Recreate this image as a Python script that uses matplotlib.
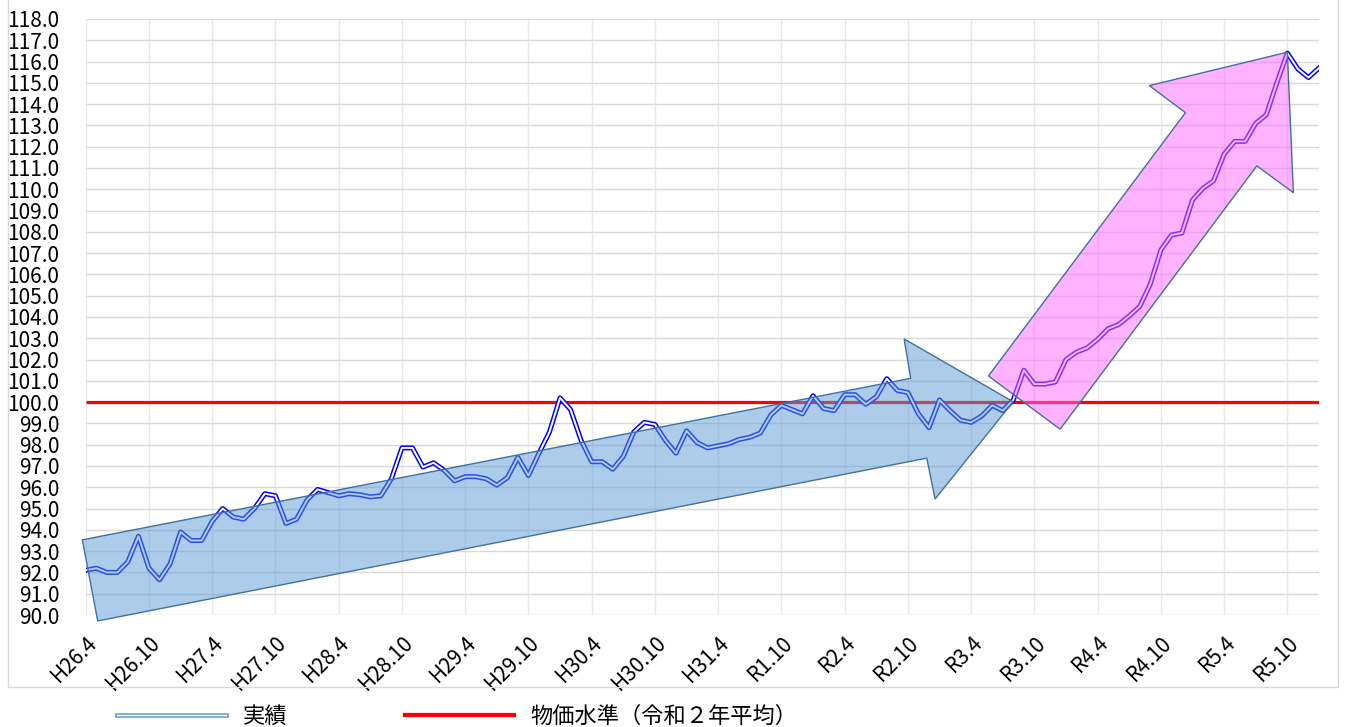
import matplotlib
matplotlib.use("Agg")
import matplotlib.pyplot as plt
import matplotlib.patheffects as pe
import numpy as np
from matplotlib.patches import Polygon, Rectangle
from matplotlib.lines import Line2D

plt.rcParams['font.family'] = ['Noto Sans CJK JP', 'DejaVu Sans']

# monthly index values, H26.4 (Apr 2014) .. R6.1 (Jan 2024)
values = [
    92.1, 92.2, 92.0, 92.0, 92.5, 93.7, 92.2, 91.65, 92.4, 93.9, 93.5, 93.5,
    94.4, 95.0, 94.6, 94.5, 95.0, 95.7, 95.6, 94.3, 94.5, 95.4, 95.9, 95.75,
    95.6, 95.7, 95.65, 95.55, 95.6, 96.4, 97.85, 97.85, 96.95, 97.15, 96.8, 96.3,
    96.5, 96.5, 96.4, 96.1, 96.45, 97.4, 96.55, 97.6, 98.6, 100.2, 99.65, 98.2,
    97.2, 97.2, 96.85, 97.45, 98.6, 99.05, 98.95, 98.2, 97.6, 98.65, 98.1, 97.85,
    97.95, 98.05, 98.25, 98.35, 98.55, 99.4, 99.85, 99.65, 99.45, 100.3, 99.7, 99.6,
    100.35, 100.35, 99.9, 100.25, 101.1, 100.55, 100.45, 99.45, 98.8, 100.1, 99.6, 99.15,
    99.05, 99.35, 99.85, 99.6, 100.1, 101.5, 100.85, 100.85, 100.95, 102.0, 102.35, 102.55,
    102.95, 103.45, 103.65, 104.05, 104.5, 105.55, 107.15, 107.85, 107.95, 109.5, 110.05, 110.4,
    111.65, 112.25, 112.25, 113.1, 113.5, 115.0, 116.4, 115.65, 115.25, 115.7,
]
base_level = 100.0

tick_labels = ["H26.4", "H26.10", "H27.4", "H27.10", "H28.4", "H28.10",
               "H29.4", "H29.10", "H30.4", "H30.10", "H31.4", "R1.10",
               "R2.4", "R2.10", "R3.4", "R3.10", "R4.4", "R4.10",
               "R5.4", "R5.10"]
tick_step = 6

# decorative arrows (month index, value)
blue_arrow = [(1.14, 89.72), (-0.32, 93.53), (78.27, 101.12), (77.64, 102.97),
              (87.98, 100.02), (80.58, 95.45), (79.79, 97.37)]
pink_arrow = [(85.64, 101.23), (92.44, 98.73), (111.1, 111.1), (114.57, 109.84),
              (114.0, 116.44), (100.9, 114.87), (104.33, 113.6)]

legend_labels = ["実績", "物価水準（令和２年平均）"]

fig = plt.figure(figsize=(13.45, 7.27), dpi=100)
ax = fig.add_axes([85.7 / 1345, 1 - 615 / 727, (1319 - 85.7) / 1345, (615 - 19) / 727])

x = np.arange(len(values))
ax.set_xlim(0, len(values) - 1)
ax.set_ylim(90, 118)
yt = np.arange(90, 118.5, 1)
ax.set_yticks(yt)
ax.set_yticklabels([f"{v:.1f}" for v in yt])
ticks = np.arange(0, len(tick_labels) * tick_step, tick_step)
ax.set_xticks(ticks)
ax.set_xticklabels(tick_labels, rotation=45, ha='right', va='top', rotation_mode='anchor')
ax.tick_params(axis='both', length=0, labelsize=15, colors='black')
ax.tick_params(axis='x', pad=12)
ax.tick_params(axis='y', pad=19)
for s in ax.spines.values():
    s.set_visible(False)
ax.grid(axis='y', color='#d9d9d9', lw=1.0, zorder=0)
ax.grid(axis='x', color='#e8e8e8', lw=1.0, zorder=0)
ax.set_axisbelow(True)

# base level line
ax.plot(x, [base_level] * len(x), color='#ff0000', lw=2.3, zorder=2, solid_capstyle='butt')
# double line
ax.plot(x, values, color='white', lw=1.4, zorder=3,
        path_effects=[pe.Stroke(linewidth=3.6, foreground='#0000ff'), pe.Normal()])

ax.add_patch(Polygon(blue_arrow, closed=True, facecolor='#5b9bd5', alpha=0.5,
                     edgecolor='none', zorder=4, clip_on=False))
ax.add_patch(Polygon(blue_arrow, closed=True, facecolor='none',
                     edgecolor='#41719c', lw=1.0, zorder=4.1, clip_on=False))
ax.add_patch(Polygon(pink_arrow, closed=True, facecolor='#ff66ff', alpha=0.5,
                     edgecolor='none', zorder=4.2, clip_on=False))
ax.add_patch(Polygon(pink_arrow, closed=True, facecolor='none',
                     edgecolor='#41719c', lw=1.0, zorder=4.3, clip_on=False))

# chart border
fig.add_artist(Rectangle((8 / 1345, 1 - 687 / 727), (1338 - 8) / 1345, 687 / 727 + 0.01,
                         transform=fig.transFigure, facecolor='none',
                         edgecolor='#d9d9d9', lw=1.0))

h1 = Line2D([], [], color='white', lw=1.0,
            path_effects=[pe.Stroke(linewidth=3.4, foreground='#6fa3d8'), pe.Normal()])
h2 = Line2D([], [], color='#ff0000', lw=3.0)
fig.legend([h1, h2], legend_labels,
           loc='center left', bbox_to_anchor=(117 / 1345, 1 - 716 / 727),
           ncol=2, frameon=False, fontsize=16, handlelength=4.9, handletextpad=0.75,
           columnspacing=5.3, borderpad=0, borderaxespad=0)

fig.savefig("out.png", dpi=100)
